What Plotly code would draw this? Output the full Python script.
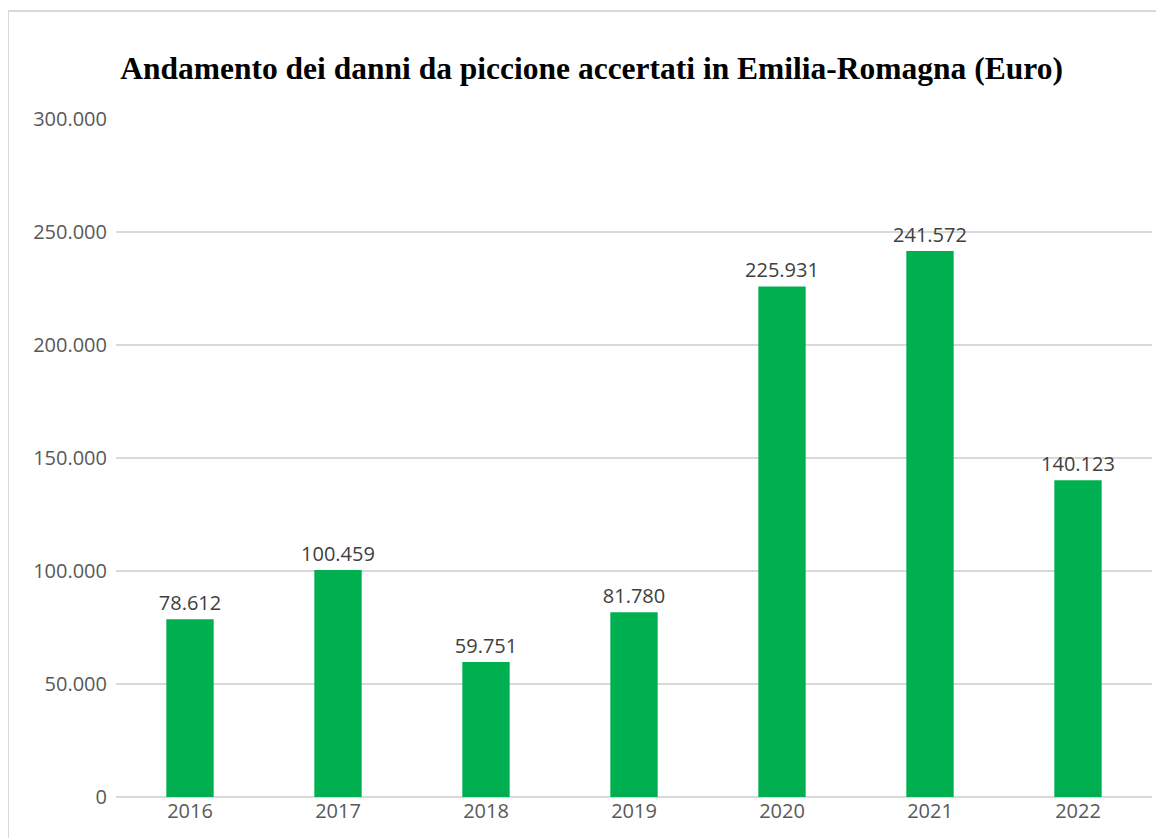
import plotly.graph_objects as go

years = ['2016', '2017', '2018', '2019', '2020', '2021', '2022']
danni = [78612, 100459, 59751, 81780, 225931, 241572, 140123]
y_ticks = [0, 50000, 100000, 150000, 200000, 250000, 300000]

title = 'Andamento dei danni da piccione accertati in Emilia-Romagna (Euro)'

fig = go.Figure()

fig.add_trace(go.Bar(
    x=years,
    y=danni,
    marker=dict(color='#00B050', line=dict(width=0)),
    texttemplate='%{y:,.0f}',
    textposition='outside',
    constraintext='none',
    textfont=dict(family='Open Sans', size=20, color='#404040'),
    cliponaxis=False,
))

# chart frame (cropped on the right and bottom in the original)
frame = dict(type='line', xref='paper', yref='paper',
             line=dict(color='#D9D9D9', width=2), layer='below')
fig.add_shape(frame, x0=-0.1042, x1=1.03, y0=1.1593, y1=1.1593)
fig.add_shape(frame, x0=-0.1042, x1=-0.1042, y0=1.1593, y1=-0.1)

# the page body adds an 8px offset, so the figure is 8px smaller
fig.update_layout(
    width=1156,
    height=830,
    margin=dict(l=108, r=12, t=111, b=41),
    paper_bgcolor='white',
    plot_bgcolor='white',
    separators=',.',
    showlegend=False,
    bargap=0.68,
    title=dict(
        text='<b>' + title + '</b>',
        font=dict(family='Liberation Serif', size=31.5, color='black'),
        x=0.5048, xref='container', xanchor='center',
        y=0.9277, yref='container', yanchor='middle',
    ),
    xaxis=dict(
        showgrid=False,
        showline=False,
        ticks='',
        tickfont=dict(family='Open Sans', size=20, color='#595959'),
    ),
    yaxis=dict(
        range=[0, 300000],
        tickvals=y_ticks,
        tickformat=',.0f',
        showgrid=True,
        gridcolor='#D9D9D9',
        gridwidth=1.5,
        zeroline=True,
        zerolinecolor='#D9D9D9',
        zerolinewidth=1.5,
        showline=False,
        ticks='',
        ticklabelstandoff=8,
        tickfont=dict(family='Open Sans', size=20, color='#595959'),
    ),
)

fig.write_html('out.html')
